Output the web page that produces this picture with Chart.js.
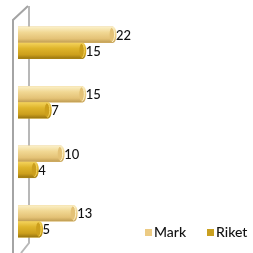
<!DOCTYPE html>
<html>
<head>
<meta charset="utf-8">
<script src="https://cdn.jsdelivr.net/npm/chart.js@4"></script>
<style>
  html, body { margin: 0; padding: 0; background: #fff; }
  #wrap { width: 253px; height: 253px; }
</style>
</head>
<body>
<div id="wrap"><canvas id="chart" width="253" height="253"></canvas></div>
<script>
const categories = ['1', '2', '3', '4'];
const markValues = [22, 15, 10, 13];
const riketValues = [15, 7, 4, 5];
const seriesNames = ['Mark', 'Riket'];

const swatch = ['#eccb84', '#c9a020'];
const shades = [
    ['#fbf0c8', '#f1d894', '#e4c276', '#bf9c52'],
    ['#f4d35c', '#dfb52c', '#cc9f1c', '#977410']
];

// wall of the value axis, drawn behind the bars
const wallPlugin = {
    id: 'wall',
    beforeDatasetsDraw(chart) {
        const ctx = chart.ctx;
        const a = chart.chartArea;
        const fx = a.left - 5, bx = a.left + 11;
        ctx.save();
        ctx.lineWidth = 2;
        ctx.strokeStyle = '#a4a4a4';
        ctx.beginPath();
        ctx.moveTo(fx, 253);
        ctx.lineTo(fx, a.top + 7);
        ctx.lineTo(bx - 1, a.top - 7);
        ctx.stroke();
        ctx.strokeStyle = '#b8b8b8';
        ctx.beginPath();
        ctx.moveTo(bx, a.top - 7);
        ctx.lineTo(bx, a.bottom - 8);
        ctx.lineTo(bx - 8, 253);
        ctx.stroke();
        ctx.restore();
    }
};

// cylinder shading, end caps and value labels
const cylinderPlugin = {
    id: 'cylinder',
    afterDatasetsDraw(chart) {
        const ctx = chart.ctx;
        chart.data.datasets.forEach((ds, di) => {
            const meta = chart.getDatasetMeta(di);
            const s = shades[di];
            meta.data.forEach((bar, i) => {
                const p = bar.getProps(['x', 'y', 'base', 'height'], true);
                const top = p.y - p.height / 2;
                const h = p.height;
                const g = ctx.createLinearGradient(0, top, 0, top + h);
                g.addColorStop(0, s[0]);
                g.addColorStop(0.35, s[1]);
                g.addColorStop(0.75, s[2]);
                g.addColorStop(1, s[3]);
                ctx.save();
                ctx.fillStyle = g;
                ctx.fillRect(p.base, top, p.x - p.base, h);
                // end cap
                const rx = 3.5;
                ctx.beginPath();
                ctx.ellipse(p.x, p.y, rx, h / 2, 0, -Math.PI / 2, Math.PI / 2);
                ctx.fillStyle = g;
                ctx.fill();
                ctx.beginPath();
                ctx.ellipse(p.x - 1, p.y, rx - 1, h / 2 - 1, 0, 0, Math.PI * 2);
                ctx.fillStyle = s[2];
                ctx.fill();
                ctx.beginPath();
                ctx.ellipse(p.x - 1, p.y, rx - 1, h / 2 - 1, 0, -Math.PI / 2, Math.PI / 2);
                ctx.strokeStyle = s[0];
                ctx.lineWidth = 1;
                ctx.stroke();
                // value label
                ctx.fillStyle = '#111';
                ctx.font = '500 13px Lato, "DejaVu Sans", sans-serif';
                ctx.textBaseline = 'middle';
                ctx.textAlign = 'left';
                ctx.fillText(String(ds.data[i]), p.x + 3, p.y + 1);
                ctx.restore();
            });
        });
        // legend
        ctx.save();
        ctx.font = '500 14px Lato, "DejaVu Sans", sans-serif';
        ctx.textBaseline = 'alphabetic';
        const lx = [145, 207];
        chart.data.datasets.forEach((ds, di) => {
            ctx.fillStyle = swatch[di];
            ctx.fillRect(lx[di], 229, 7, 7);
            ctx.fillStyle = '#111';
            ctx.fillText(ds.label, lx[di] + 9, 237);
        });
        ctx.restore();
    }
};

new Chart(document.getElementById('chart'), {
    type: 'bar',
    data: {
        labels: categories,
        datasets: [
            { label: seriesNames[0], data: markValues, backgroundColor: swatch[0] },
            { label: seriesNames[1], data: riketValues, backgroundColor: swatch[1] }
        ]
    },
    options: {
        indexAxis: 'y',
        responsive: false,
        animation: false,
        barThickness: 16,
        layout: { padding: { left: 18, right: 19, top: 13, bottom: 2 } },
        scales: {
            x: { display: false, min: 0, max: 50 },
            y: { display: false, grid: { display: false } }
        },
        plugins: {
            legend: { display: false },
            tooltip: { enabled: false }
        }
    },
    plugins: [wallPlugin, cylinderPlugin]
});
</script>
</body>
</html>
